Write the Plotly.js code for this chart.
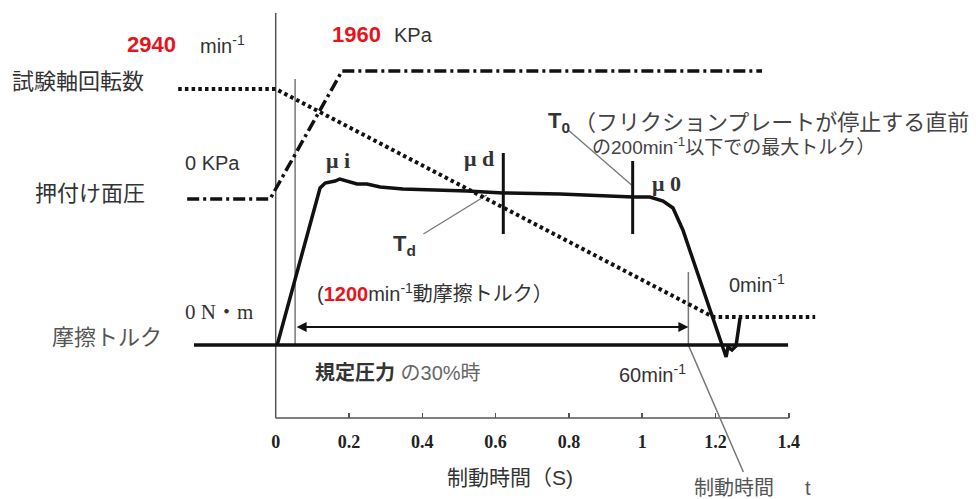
<!DOCTYPE html>
<html><head><meta charset="utf-8">
<script src="https://cdn.plot.ly/plotly-3.0.1.min.js"></script>
<style>html,body{margin:0;padding:0;background:#fff}</style>
</head><body><div id="chart" style="width:976px;height:499px"></div>
<script>
// ---- data (time in s, level in arbitrary diagram units) ----
const torqueT = [0.004, 0.121, 0.135, 0.162, 0.175, 0.195, 0.222, 0.249, 0.285, 0.347, 0.440, 0.522, 0.620, 0.776, 0.975, 1.021, 1.057, 1.084, 1.111, 1.229, 1.234, 1.245, 1.256, 1.261, 1.267];
const torqueV = [73, 230, 235, 237, 239, 237, 234, 234, 231, 229, 228, 227, 225, 224, 221, 221, 217, 210, 188, 61, 71, 68, 72, 83, 100];
const speedT = [-0.266, 0.0, 1.194, 1.472];
const speedV = [329, 329, 101, 101];
const pressureT = [-0.2415, -0.0155, 0.181, 1.327];
const pressureV = [219, 219, 347, 347];
const zeroTorqueT = [-0.223, 1.398];
const zeroTorqueV = [73, 73];
const yAxisT = [0, 0];
const yAxisV = [0, 405];
const xAxisT = [0, 1.4];
const xAxisV = [0, 0];
const startMarkT = [0.053, 0.053];
const startMarkV = [339, 73];
const endMarkT = [1.126, 1.126, 1.276];
const endMarkV = [146, 73, -54];
const muDT = [0.621, 0.621];
const muDV = [265, 184];
const mu0T = [0.974, 0.974];
const mu0V = [257, 184];
const t0LeaderT = [0.798, 0.971];
const t0LeaderV = [288, 233];
const tdLeaderT = [0.403, 0.576];
const tdLeaderV = [184, 223];
const spanT = [0.053, 1.126];
const spanV = [91, 91];
const tickVals = [0, 0.2, 0.4, 0.6, 0.8, 1, 1.2, 1.4];
const tickText = ["0", "0.2", "0.4", "0.6", "0.8", "1", "1.2", "1.4"];

// ---- styles ----
const SANS = "'Liberation Sans', Arial, 'Noto Sans CJK JP', sans-serif";
const SERIF = "'Liberation Serif', 'DejaVu Serif', 'Noto Sans CJK JP', serif";
const INK = '#111';
const GREY = '#777';
const TXT = '#333';
const RED = '#e8141c';

function line(x, y, color, width, dash) {
  return {x: x, y: y, type: 'scatter', mode: 'lines', hoverinfo: 'skip',
    line: {color: color, width: width, dash: dash || 'solid'}};
}

const traces = [
  line(yAxisT, yAxisV, '#555', 1.5),
  line(xAxisT, xAxisV, '#555', 1.5),
  line(startMarkT, startMarkV, GREY, 1.5),
  line(endMarkT, endMarkV, GREY, 1.5),
  line(t0LeaderT, t0LeaderV, GREY, 1.3),
  line(tdLeaderT, tdLeaderV, GREY, 1.3),
  line(zeroTorqueT, zeroTorqueV, INK, 3.5),
  line(pressureT, pressureV, INK, 3.5, '12px,4px,3px,4px'),
  line(speedT, speedV, INK, 4, '3.5px,3.2px'),
  line(muDT, muDV, INK, 3),
  line(mu0T, mu0V, INK, 3),
  line(torqueT, torqueV, INK, 3.5)
];

const W = 976, H = 499;
function A(text, x, y, o) {
  o = o || {};
  return {text: text, xref: 'paper', yref: 'paper', x: x / W, y: 1 - y / H,
    showarrow: false, xanchor: o.anchor || 'left', yanchor: 'middle',
    font: {family: o.family || SANS, size: o.size || 20, color: o.color || TXT}};
}

const annotations = [
  A('<b>2940</b>', 151, 45, {anchor: 'center', color: RED, size: 22}),
  A('min<sup>-1</sup>', 198, 45, {size: 20}),
  A('<b>1960</b>', 356, 35, {anchor: 'center', color: RED, size: 22}),
  A('KPa', 392, 35),
  A('試験軸回転数', 10, 82, {size: 22}),
  A('0 KPa', 183, 163, {size: 20}),
  A('押付け面圧', 33, 193, {size: 22}),
  A('0 N・m', 183, 312, {family: SERIF, size: 21}),
  A('摩擦トルク', 50, 337, {size: 22, color: '#555'}),
  A('<b>μ i</b>', 338, 160, {anchor: 'center', family: SERIF, size: 22}),
  A('<b>μ d</b>', 479, 158, {anchor: 'center', family: SERIF, size: 22}),
  A('<b>μ 0</b>', 666, 183, {anchor: 'center', family: SERIF, size: 22}),
  A('<b>T<sub>0</sub></b>', 546, 122, {size: 22}),
  A('（フリクションプレートが停止する直前', 572, 122, {size: 22, color: '#444'}),
  A('の200min<sup>-1</sup>以下での最大トルク）', 590, 146, {size: 19, color: '#444'}),
  A('<b>T<sub>d</sub></b>', 391, 245, {size: 22}),
  A('(<b><span style="color:' + RED + '">1200</span></b>min<sup>-1</sup>動摩擦トルク）', 315, 292),
  A('0min<sup>-1</sup>', 727, 283),
  A('<b>規定圧力</b> <span style="color:#666">の30%時</span>', 313, 373),
  A('60min<sup>-1</sup>', 617, 373, {size: 20}),
  A('制動時間（S)', 510, 477, {anchor: 'center', size: 21}),
  A('制動時間', 692, 488, {color: '#555'}),
  A('t', 803, 488, {color: '#555'}),
  {x: spanT[1], y: spanV[1], ax: spanT[0], ay: spanV[0], xref: 'x', yref: 'y', axref: 'x', ayref: 'y',
   text: '', showarrow: true, arrowhead: 2, arrowside: 'end+start', arrowsize: 1, arrowwidth: 2, arrowcolor: INK}
];

const x0 = 275.7, sc = 366.5;
const layout = {
  width: W, height: H, margin: {l: 0, r: 0, t: 0, b: 0},
  paper_bgcolor: '#fff', plot_bgcolor: '#fff', showlegend: false,
  xaxis: {range: [-x0 / sc, (W - x0) / sc], domain: [0, 1], anchor: 'free', position: 81 / H,
    showgrid: false, zeroline: false, showline: false, automargin: false,
    tickmode: 'array', tickvals: tickVals, ticktext: tickText,
    ticks: 'inside', ticklen: 5, tickwidth: 1.5, tickcolor: '#555',
    ticklabelstandoff: 11, tickfont: {family: SERIF, size: 18, color: '#222', weight: 'bold'}},
  yaxis: {range: [-81, 418], domain: [0, 1], visible: false, fixedrange: true},
  annotations: annotations
};

Plotly.newPlot('chart', traces, layout, {staticPlot: true, displayModeBar: false});
</script>
</body></html>
